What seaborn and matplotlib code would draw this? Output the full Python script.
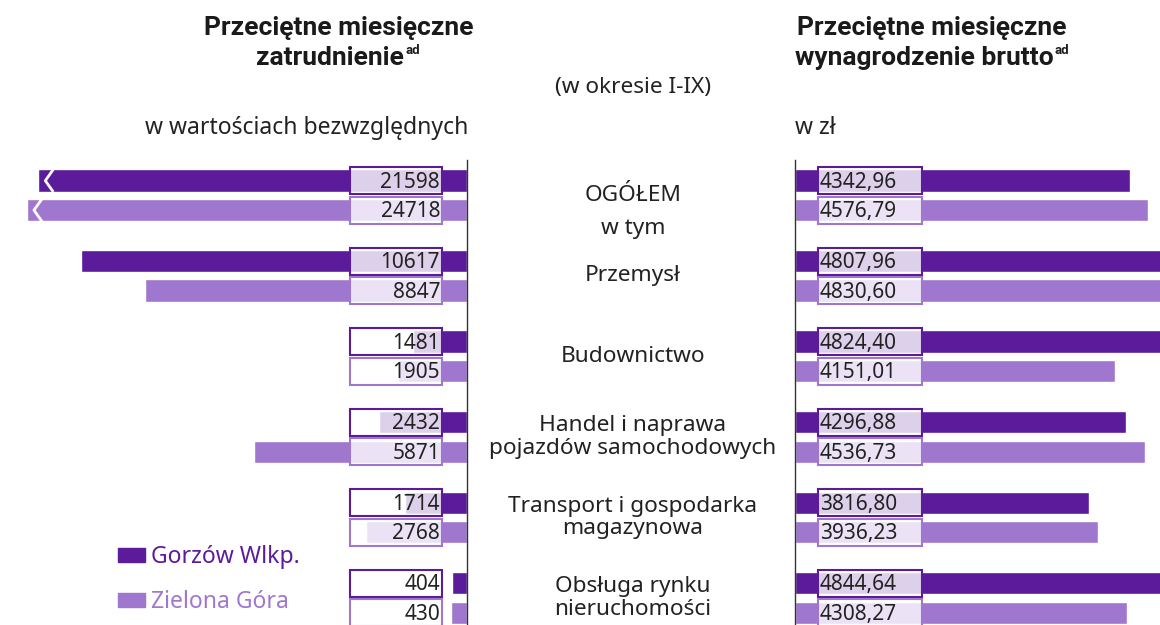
import pandas as pd
import seaborn as sns
import matplotlib.pyplot as plt
import matplotlib.patches as mpatches
import matplotlib.transforms as mtransforms

# Data
sectors = ["OGÓŁEM", "Przemysł", "Budownictwo",
           "Handel i naprawa\npojazdów samochodowych",
           "Transport i gospodarka\nmagazynowa",
           "Obsługa rynku\nnieruchomości"]
cities = ["Gorzów Wlkp.", "Zielona Góra"]
emp_gorzow = [21598, 10617, 1481, 2432, 1714, 404]
emp_zielona = [24718, 8847, 1905, 5871, 2768, 430]
wage_gorzow = [4342.96, 4807.96, 4824.40, 4296.88, 3816.80, 4844.64]
wage_zielona = [4576.79, 4830.60, 4151.01, 4536.73, 3936.23, 4308.27]

DARK = "#5b1b9b"
LIGHT = "#a077cf"
TXT = "#222222"
TITLE = "#1a1a1a"

sns.set_style("white")
plt.rcParams['font.family'] = ['Noto Sans', 'DejaVu Sans']
BOLD = ['Roboto', 'DejaVu Sans']

W, H = 1160, 625


def fx(px):
    return px / W


def fy(py):
    return 1 - py / H


# long bars are cut with a break mark: compress everything past break_at
break_at = 10700
emp_limit = 12843


def squeeze(v):
    return v if v <= break_at else break_at + (v - break_at) * 0.1


emp = pd.DataFrame({
    "sector": sectors * 2,
    "city": [cities[0]] * 6 + [cities[1]] * 6,
    "value": emp_gorzow + emp_zielona,
})
emp["shown"] = emp["value"].apply(squeeze)
wage = pd.DataFrame({
    "sector": sectors * 2,
    "city": [cities[0]] * 6 + [cities[1]] * 6,
    "value": wage_gorzow + wage_zielona,
})

fig = plt.figure(figsize=(11.6, 6.25), dpi=100)
axL = fig.add_axes([0, 0, fx(467), fy(160)])
axR = fig.add_axes([fx(795), 0, fx(W - 795), fy(160)])

sns.barplot(data=emp, y="sector", x="shown", hue="city", orient="h",
            palette=[DARK, LIGHT], width=0.733, gap=0.24, ax=axL,
            legend=False, saturation=1)
sns.barplot(data=wage, y="sector", x="value", hue="city", orient="h",
            palette=[DARK, LIGHT], width=0.733, gap=0.24, ax=axR,
            legend=False, saturation=1)

axL.set_xlim(emp_limit, 0)
axR.set_xlim(0, 4734)
for ax in (axL, axR):
    ax.set_ylim(5.335, -0.44)
    ax.set_xlabel("")
    ax.set_ylabel("")
    ax.set_xticks([])
    ax.set_yticks([])
    ax.patch.set_alpha(0)
    for s in ax.spines.values():
        s.set_visible(False)
axL.spines["right"].set_visible(True)
axR.spines["left"].set_visible(True)
for s in (axL.spines["right"], axR.spines["left"]):
    s.set_color("#333333")
    s.set_linewidth(1)

# value boxes (semi transparent white with coloured edge)
blendL = mtransforms.blended_transform_factory(axL.transAxes, axL.transData)
blendR = mtransforms.blended_transform_factory(axR.transAxes, axR.transData)
ppu = 467 / emp_limit

for i, (vals, col) in enumerate([(emp_gorzow, DARK), (emp_zielona, LIGHT)]):
    for j, bar in enumerate(axL.containers[i]):
        yc = bar.get_y() + bar.get_height() / 2
        bh = bar.get_height() * 1.2
        axL.add_patch(mpatches.Rectangle((350 / 467, yc - bh / 2), 92 / 467, bh,
                                         transform=blendL, facecolor=(1, 1, 1, 0.8),
                                         edgecolor=col, linewidth=1.5, zorder=3))
        axL.text(440 / 467, yc + 0.02, str(vals[j]), transform=blendL, ha="right",
                 va="center", fontsize=15, color=TXT, zorder=4)
        if vals[j] > break_at:
            end = bar.get_width()
            h = bar.get_height() / 2
            axL.plot([end - 15 / ppu, end - 7 / ppu, end - 15 / ppu],
                     [yc - h, yc, yc + h], color="white", lw=2, zorder=3,
                     solid_capstyle="butt")

for i, (vals, col) in enumerate([(wage_gorzow, DARK), (wage_zielona, LIGHT)]):
    for j, bar in enumerate(axR.containers[i]):
        yc = bar.get_y() + bar.get_height() / 2
        bh = bar.get_height() * 1.2
        axR.add_patch(mpatches.Rectangle((23 / 365, yc - bh / 2), 104 / 365, bh,
                                         transform=blendR, facecolor=(1, 1, 1, 0.8),
                                         edgecolor=col, linewidth=1.5, zorder=3))
        axR.text(25 / 365, yc + 0.02, f"{vals[j]:.2f}".replace(".", ","),
                 transform=blendR, ha="left", va="center", fontsize=15,
                 color=TXT, zorder=4)

# sector names in the middle
blendC = mtransforms.blended_transform_factory(fig.transFigure, axL.transData)
for j, name in enumerate(sectors):
    fig.text(fx(633), j, name, transform=blendC, ha="center", va="center",
             fontsize=16.3, color=TXT, linespacing=1.1)
fig.text(fx(633), 0.41, "w tym", transform=blendC, ha="center", va="center",
         fontsize=16.3, color=TXT)

# titles with superscript "ad"
fig.text(fx(339), fy(28), "Przeciętne miesięczne", ha="center", va="center",
         fontsize=19, fontweight="bold", color=TITLE, family=BOLD)
t2 = fig.text(fx(330), fy(58), "zatrudnienie", ha="center", va="center",
              fontsize=19, fontweight="bold", color=TITLE, family=BOLD)
fig.text(fx(932), fy(28), "Przeciętne miesięczne", ha="center", va="center",
         fontsize=19, fontweight="bold", color=TITLE, family=BOLD)
t4 = fig.text(fx(924), fy(58), "wynagrodzenie brutto", ha="center", va="center",
              fontsize=19, fontweight="bold", color=TITLE, family=BOLD)
for t in (t2, t4):
    fig.add_artist(plt.Annotation("ad", xy=(1, 0.55), xycoords=t, xytext=(1, 0),
                                  textcoords="offset points", ha="left", va="bottom",
                                  fontsize=9.5, fontweight="bold", color=TITLE, family=BOLD))

fig.text(fx(633), fy(87), "(w okresie I-IX)", ha="center", va="center",
         fontsize=16.3, color=TXT)
fig.text(fx(468), fy(128), "w wartościach bezwzględnych", ha="right", va="center",
         fontsize=16.5, color=TXT)
fig.text(fx(795), fy(128), "w zł", ha="left", va="center", fontsize=16.5, color=TXT)

# legend
handles = [mpatches.Patch(color=DARK), mpatches.Patch(color=LIGHT)]
leg = axL.legend(handles, cities, loc="upper left", bbox_to_anchor=(fx(118), fy(545)),
                 bbox_transform=fig.transFigure, frameon=False, fontsize=16.5,
                 handlelength=1.18, handleheight=0.6, handletextpad=0.25,
                 labelspacing=0.92, borderpad=0, borderaxespad=0)
for txt, c in zip(leg.get_texts(), [DARK, LIGHT]):
    txt.set_color(c)

fig.savefig("out.png", dpi=100)
